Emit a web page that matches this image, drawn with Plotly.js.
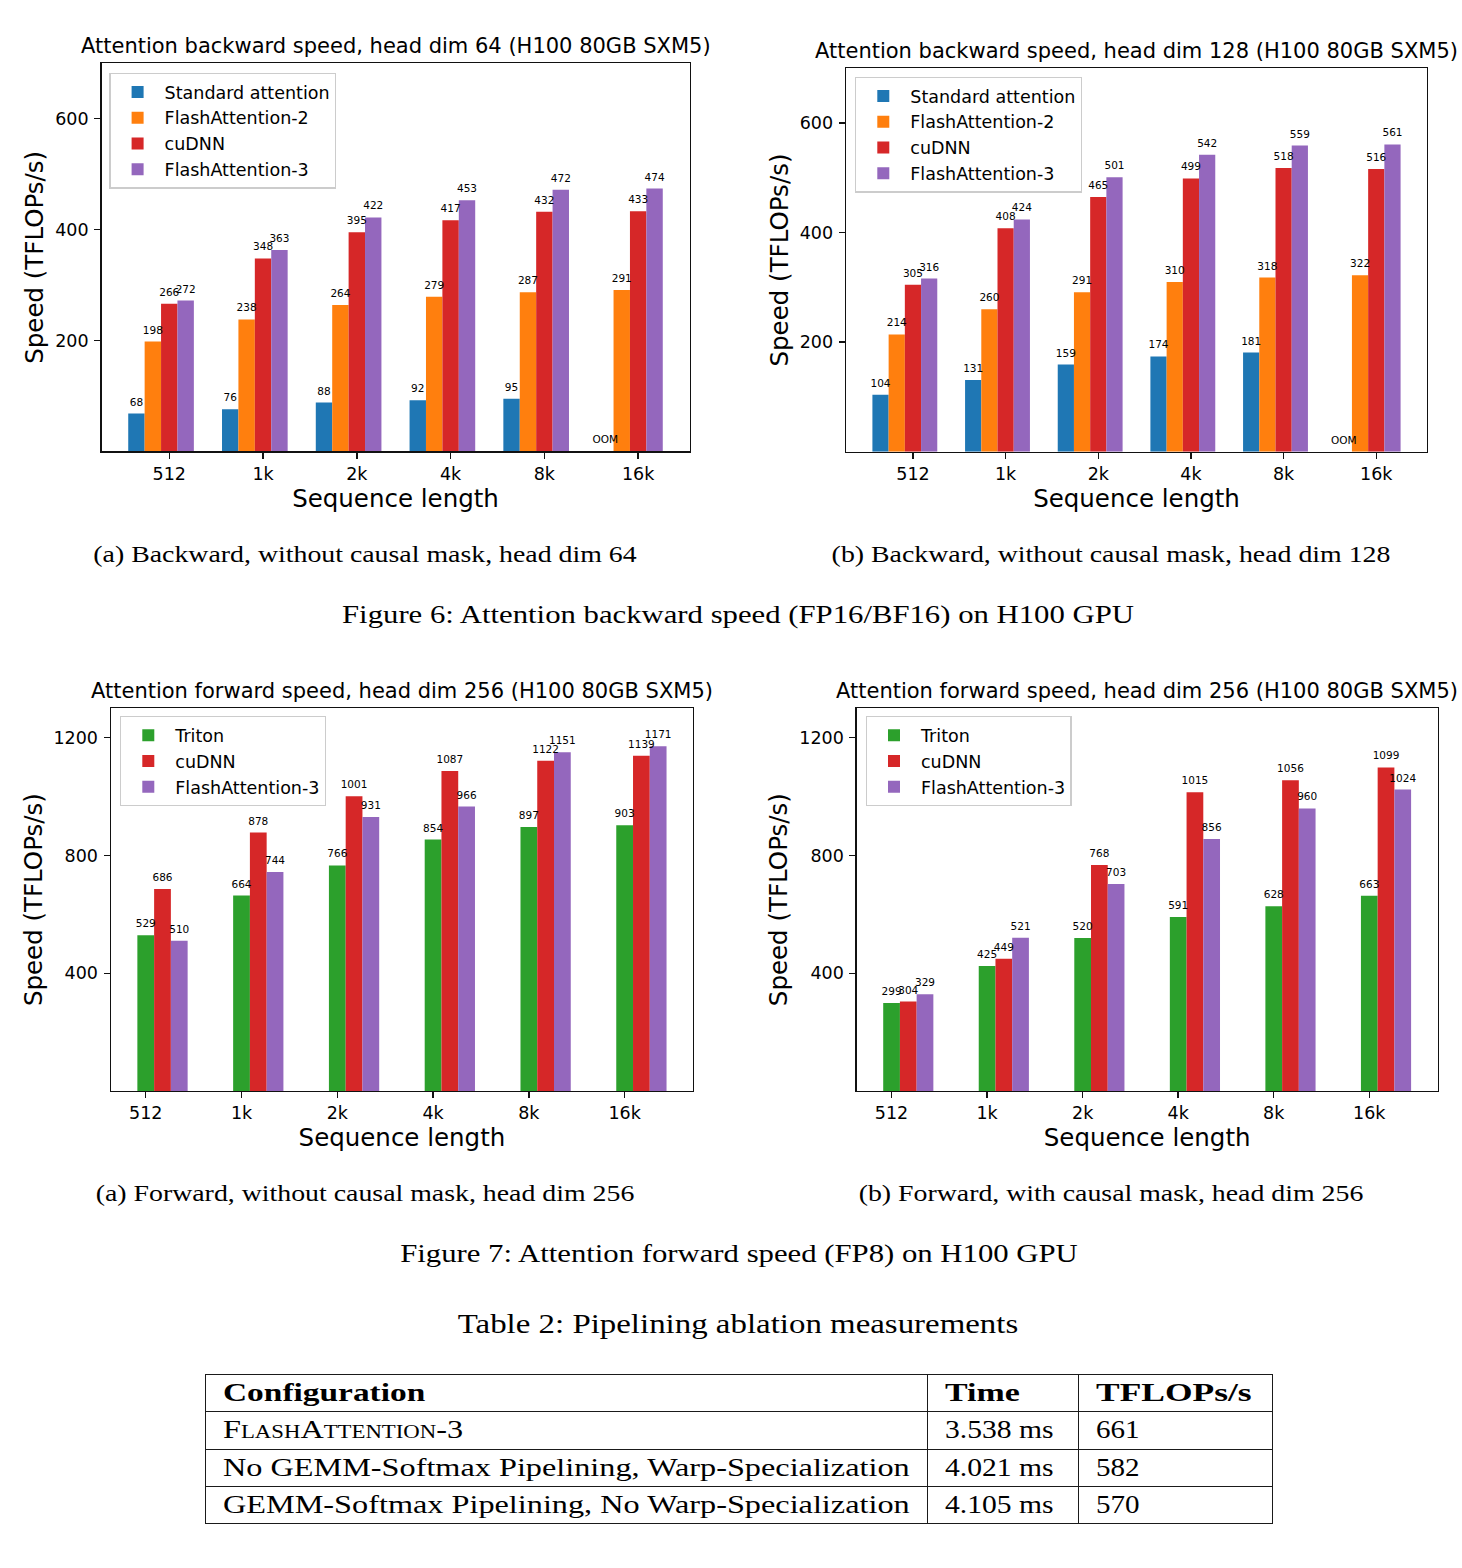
<!DOCTYPE html>
<html><head><meta charset="utf-8">
<script src="https://cdn.plot.ly/plotly-3.0.1.min.js"></script>
<style>
html,body{margin:0;padding:0;background:#fff;}
#page{position:relative;width:1462px;height:1568px;overflow:hidden;background:#fff;}
#chart{position:absolute;left:0;top:0;width:1462px;height:1568px;}
.cap{position:absolute;white-space:nowrap;font-family:"Liberation Serif",serif;color:#000;line-height:1;}
#tbl{position:absolute;border-collapse:collapse;font-family:"Liberation Serif",serif;color:#000;table-layout:fixed;}
#tbl td{border:1.3px solid #1a1a1a;padding:0 0 0 17px;text-align:left;vertical-align:middle;white-space:nowrap;overflow:visible;}
.sx{display:inline-block;transform-origin:left center;}
</style></head>
<body><div id="page"><div id="chart"></div></div>
<script>
// ---------------- data ----------------
const seqLabels = ['512', '1k', '2k', '4k', '8k', '16k'];

// Figure 6a: backward, head dim 64
const bwd64Standard = [68, 76, 88, 92, 95, null];
const bwd64FA2 = [198, 238, 264, 279, 287, 291];
const bwd64CuDNN = [266, 348, 395, 417, 432, 433];
const bwd64FA3 = [272, 363, 422, 453, 472, 474];

// Figure 6b: backward, head dim 128
const bwd128Standard = [104, 131, 159, 174, 181, null];
const bwd128FA2 = [214, 260, 291, 310, 318, 322];
const bwd128CuDNN = [305, 408, 465, 499, 518, 516];
const bwd128FA3 = [316, 424, 501, 542, 559, 561];

// Figure 7a: forward FP8, no causal, head dim 256
const fwdTriton = [529, 664, 766, 854, 897, 903];
const fwdCuDNN = [686, 878, 1001, 1087, 1122, 1139];
const fwdFA3 = [510, 744, 931, 966, 1151, 1171];

// Figure 7b: forward FP8, causal, head dim 256
const fwdCausalTriton = [299, 425, 520, 591, 628, 663];
const fwdCausalCuDNN = [304, 449, 768, 1015, 1056, 1099];
const fwdCausalFA3 = [329, 521, 703, 856, 960, 1024];

const namesBwd = ['Standard attention', 'FlashAttention-2', 'cuDNN', 'FlashAttention-3'];
const namesFwd = ['Triton', 'cuDNN', 'FlashAttention-3'];

const chartTitles = [
  'Attention backward speed, head dim 64 (H100 80GB SXM5)',
  'Attention backward speed, head dim 128 (H100 80GB SXM5)',
  'Attention forward speed, head dim 256 (H100 80GB SXM5)',
  'Attention forward speed, head dim 256 (H100 80GB SXM5)'
];
const xTitle = 'Sequence length';
const yTitle = 'Speed (TFLOPs/s)';
const yTicksBwd = [200, 400, 600];
const yTicksFwd = [400, 800, 1200];
const missingLabel = 'OOM';

const captions = [
  '(a) Backward, without causal mask, head dim 64',
  '(b) Backward, without causal mask, head dim 128',
  'Figure 6: Attention backward speed (FP16/BF16) on H100 GPU',
  '(a) Forward, without causal mask, head dim 256',
  '(b) Forward, with causal mask, head dim 256',
  'Figure 7: Attention forward speed (FP8) on H100 GPU',
  'Table 2: Pipelining ablation measurements'
];

const tableHeader = ['Configuration', 'Time', 'TFLOPs/s'];
const tableConfig = ['FlashAttention-3', 'No GEMM-Softmax Pipelining, Warp-Specialization', 'GEMM-Softmax Pipelining, No Warp-Specialization'];
const tableTime = ['3.538 ms', '4.021 ms', '4.105 ms'];
const tableTflops = ['661', '582', '570'];

// ---------------- styling / layout ----------------
const W = 1462, H = 1568;
const C = {blue: '#1f77b4', orange: '#ff7f0e', green: '#2ca02c', red: '#d62728', purple: '#9467bd'};
const colorsBwd = [C.blue, C.orange, C.red, C.purple];
const colorsFwd = [C.green, C.red, C.purple];
const BW = 0.175;

const fx = p => p / W;
const fy = p => 1 - p / H;

const panels = [
  {box: [101.5, 689.5, 63.3, 451.3], leg: [109.3, 72.7], yr: [0, 700], yt: yTicksBwd,
   series: [bwd64Standard, bwd64FA2, bwd64CuDNN, bwd64FA3], names: namesBwd, colors: colorsBwd, first: -2.5},
  {box: [846, 1427, 68.3, 451.7], leg: [855, 76.7], yr: [0, 700], yt: yTicksBwd,
   series: [bwd128Standard, bwd128FA2, bwd128CuDNN, bwd128FA3], names: namesBwd, colors: colorsBwd, first: -2.5},
  {box: [110.9, 693, 708.3, 1091], leg: [120, 716], yr: [0, 1300], yt: yTicksFwd,
   series: [fwdTriton, fwdCuDNN, fwdFA3], names: namesFwd, colors: colorsFwd, first: -0.5},
  {box: [856.8, 1437.5, 708.3, 1091], leg: [865.7, 716], yr: [0, 1300], yt: yTicksFwd,
   series: [fwdCausalTriton, fwdCausalCuDNN, fwdCausalFA3], names: namesFwd, colors: colorsFwd, first: -0.5}
];

const barTraces = [];
const textTraces = [];
const layout = {
  width: W, height: H,
  margin: {l: 0, r: 0, t: 0, b: 0},
  paper_bgcolor: '#fff', plot_bgcolor: '#fff',
  font: {family: 'DejaVu Sans, sans-serif', color: '#000', size: 17.5},
  barmode: 'overlay',
  showlegend: true,
  annotations: []
};

const idx = seqLabels.map((_, i) => i);

panels.forEach((p, i) => {
  const n = i + 1;
  const xa = n === 1 ? 'x' : 'x' + n;
  const ya = n === 1 ? 'y' : 'y' + n;
  const legKey = n === 1 ? 'legend' : 'legend' + n;
  const k = p.series.length;
  const lo = p.first * BW;
  const hi = (p.first + k) * BW;
  const span = (seqLabels.length - 1) + hi - lo;
  const xr = [lo - 0.05 * span, seqLabels.length - 1 + hi + 0.05 * span];

  p.series.forEach((vals, j) => {
    const yv = vals.map(v => v === null ? 0 : v);
    barTraces.push({
      type: 'bar',
      x: idx,
      y: yv,
      width: BW,
      offset: (p.first + j) * BW,
      marker: {color: p.colors[j], line: {width: 0}},
      name: p.names[j],
      legend: legKey,
      legendgroup: 'g' + n + '_' + j,
      xaxis: xa, yaxis: ya,
      hoverinfo: 'skip'
    });
    textTraces.push({
      type: 'scatter',
      mode: 'markers+text',
      marker: {size: 7, color: 'rgba(0,0,0,0)', line: {width: 0}},
      x: idx.map(c => c + (p.first + j + 0.5) * BW),
      y: yv,
      text: vals.map(v => v === null ? missingLabel : String(v)),
      textposition: 'top center',
      textfont: {size: 10.5, color: '#000', family: 'DejaVu Sans, sans-serif'},
      cliponaxis: false,
      showlegend: false,
      xaxis: xa, yaxis: ya,
      hoverinfo: 'skip'
    });
  });

  const [x0, x1, y0, y1] = p.box;
  layout['xaxis' + (n === 1 ? '' : n)] = {
    domain: [fx(x0), fx(x1)], anchor: ya, range: xr,
    tickmode: 'array', tickvals: idx, ticktext: seqLabels,
    showline: true, mirror: true, linecolor: '#111', linewidth: 1.4,
    ticks: 'outside', ticklen: 6, tickwidth: 1.4, tickcolor: '#111',
    showgrid: false, zeroline: false, fixedrange: true,
    tickfont: {size: 17.5},
    title: {text: xTitle, font: {size: 24.5}, standoff: 6}
  };
  layout['yaxis' + (n === 1 ? '' : n)] = {
    domain: [fy(y1), fy(y0)], anchor: xa, range: p.yr,
    tickmode: 'array', tickvals: p.yt,
    showline: true, mirror: true, linecolor: '#111', linewidth: 1.4,
    ticks: 'outside', ticklen: 6, tickwidth: 1.4, tickcolor: '#111',
    showgrid: false, zeroline: false, fixedrange: true,
    tickfont: {size: 17.5}, ticklabelstandoff: 2,
    title: {text: yTitle, font: {size: 24.5}, standoff: 4}
  };
  layout[legKey] = {
    x: fx(p.leg[0]), y: fy(p.leg[1]), xanchor: 'left', yanchor: 'top',
    bgcolor: 'rgba(255,255,255,0.8)', bordercolor: '#cccccc', borderwidth: 1.3,
    font: {size: 17.5}, traceorder: 'grouped', tracegroupgap: 0, itemwidth: 44
  };
  layout.annotations.push({
    xref: 'paper', yref: 'paper', x: fx((x0 + x1) / 2), y: fy(y0 - 17.5),
    xanchor: 'center', yanchor: 'middle', showarrow: false,
    text: chartTitles[i], font: {size: 21}
  });
});

Plotly.newPlot('chart', barTraces.concat(textTraces), layout, {staticPlot: true, displayModeBar: false});

// ---------------- captions ----------------
const capPos = [[365, 554], [1110.5, 554], [738, 615], [365, 1193], [1111, 1193], [738.5, 1254], [738, 1325]];
const capSize = [23, 23, 25.4, 23, 23, 25.4, 27.2];
const page = document.getElementById('page');
captions.forEach((t, i) => {
  const d = document.createElement('div');
  d.className = 'cap';
  d.textContent = t;
  d.style.left = capPos[i][0] + 'px';
  d.style.top = capPos[i][1] + 'px';
  d.style.fontSize = capSize[i] + 'px';
  d.style.transform = 'translate(-50%,-50%) scaleX(1.21)';
  page.appendChild(d);
});

// ---------------- table ----------------
const tbl = document.createElement('table');
tbl.id = 'tbl';
tbl.style.left = '205px';
tbl.style.top = '1374px';
tbl.style.width = '1067px';
const colW = [722, 151, 194];
const headScale = [1.31, 1.33, 1.39];
const bodyScale = [1.265, 1.16, 1.14];
const cg = document.createElement('colgroup');
colW.forEach(w => { const c = document.createElement('col'); c.style.width = w + 'px'; cg.appendChild(c); });
tbl.appendChild(cg);
function addRow(cells, bold, smallCapsFirst) {
  const tr = document.createElement('tr');
  tr.style.height = '37.3px';
  cells.forEach((t, ci) => {
    const td = document.createElement('td');
    const s = document.createElement('span');
    s.className = 'sx';
    s.textContent = t;
    s.style.fontSize = '25.5px';
    s.style.fontWeight = bold ? 'bold' : 'normal';
    s.style.transform = 'scaleX(' + (bold ? headScale[ci] : bodyScale[ci]) + ')';
    if (smallCapsFirst && ci === 0) { s.style.fontVariant = 'small-caps'; }
    td.appendChild(s);
    tr.appendChild(td);
  });
  tbl.appendChild(tr);
}
addRow(tableHeader, true, false);
tableConfig.forEach((c, i) => addRow([c, tableTime[i], tableTflops[i]], false, i === 0));
page.appendChild(tbl);
</script>
</body></html>
